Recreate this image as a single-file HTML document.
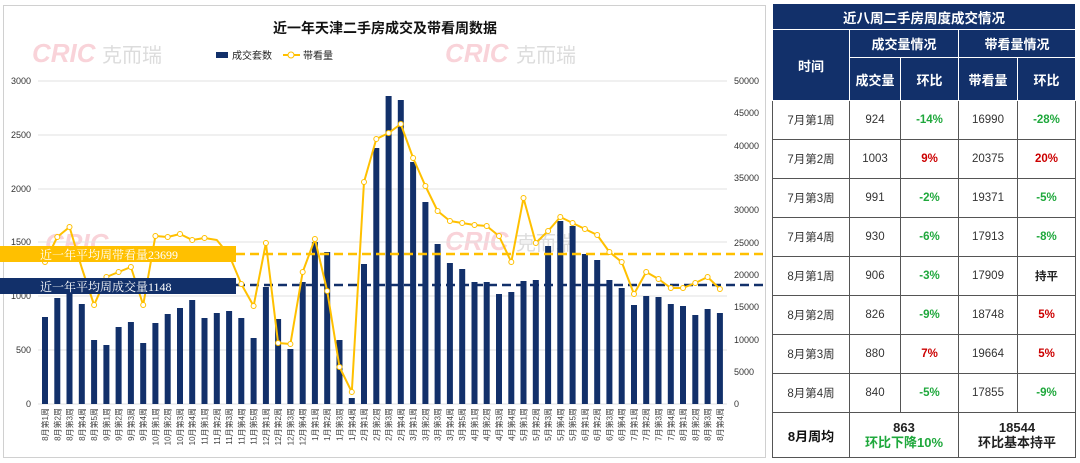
<!DOCTYPE html>
<html><head><meta charset="utf-8"><style>
body{margin:0;width:1080px;height:463px;background:#fff;overflow:hidden;font-family:"Liberation Sans","Noto Sans CJK SC",sans-serif}
#tb{position:absolute;left:772px;top:3px;border-collapse:collapse;font-size:11.5px;}
#tb td{border:1px solid #555;text-align:center;padding:0;color:#333}
#tb td.h{background:#12306a;color:#fff;font-weight:bold;font-size:13px;border-color:#fff}
#tb .g{color:#1fa83c;font-weight:bold}#tb .r{color:#c00;font-weight:bold}
</style></head><body>
<svg width="770" height="463" style="position:absolute;left:0;top:0" font-family="Liberation Sans,Noto Sans CJK SC,sans-serif">
<rect x="3.5" y="5.5" width="762" height="452" fill="#fff" stroke="#d0d0d0"/>
<text x="385" y="33" text-anchor="middle" font-size="14" font-weight="bold" fill="#111">近一年天津二手房成交及带看周数据</text>
<g font-size="26" font-weight="bold" font-style="italic" fill="#f2a0ac" opacity="0.45"><text x="32" y="62">CRIC</text><text x="445" y="62">CRIC</text><text x="445" y="250">CRIC</text><text x="45" y="252">CRIC</text></g>
<g font-size="20" fill="#bbb" opacity="0.5"><text x="102" y="62">克而瑞</text><text x="516" y="62">克而瑞</text><text x="516" y="250">克而瑞</text></g>
<rect x="216" y="52" width="12" height="6" fill="#12306a"/><text x="232" y="59" font-size="10" fill="#222">成交套数</text>
<line x1="283" y1="55" x2="300" y2="55" stroke="#ffc000" stroke-width="2"/><circle cx="291" cy="55" r="3" fill="#fff" stroke="#ffc000"/><text x="303" y="59" font-size="10" fill="#222">带看量</text>
<g stroke="#e2e2e2" stroke-width="1">
<line x1="38" y1="81" x2="727" y2="81"/><line x1="38" y1="135" x2="727" y2="135"/><line x1="38" y1="189" x2="727" y2="189"/><line x1="38" y1="242" x2="727" y2="242"/><line x1="38" y1="296" x2="727" y2="296"/><line x1="38" y1="350" x2="727" y2="350"/><line x1="38" y1="404" x2="727" y2="404"/></g>
<g font-size="9" fill="#333" text-anchor="end"><text x="31" y="84">3000</text><text x="31" y="138">2500</text><text x="31" y="192">2000</text><text x="31" y="245">1500</text><text x="31" y="299">1000</text><text x="31" y="353">500</text><text x="31" y="407">0</text></g>
<g font-size="9" fill="#333"><text x="734" y="84">50000</text><text x="734" y="116">45000</text><text x="734" y="149">40000</text><text x="734" y="181">35000</text><text x="734" y="213">30000</text><text x="734" y="246">25000</text><text x="734" y="278">20000</text><text x="734" y="310">15000</text><text x="734" y="343">10000</text><text x="734" y="375">5000</text><text x="734" y="407">0</text></g>
<g fill="#12306a">
<rect x="42" y="317" width="6" height="87"/><rect x="54.3" y="298" width="6" height="106"/><rect x="66.5" y="288" width="6" height="116"/><rect x="78.8" y="304" width="6" height="100"/><rect x="91.1" y="340" width="6" height="64"/><rect x="103.4" y="345" width="6" height="59"/><rect x="115.6" y="327" width="6" height="77"/><rect x="127.9" y="322" width="6" height="82"/><rect x="140.2" y="343" width="6" height="61"/><rect x="152.4" y="323" width="6" height="81"/><rect x="164.7" y="314" width="6" height="90"/><rect x="177" y="308" width="6" height="96"/><rect x="189.2" y="300" width="6" height="104"/><rect x="201.5" y="318" width="6" height="86"/><rect x="213.8" y="313" width="6" height="91"/><rect x="226.1" y="311" width="6" height="93"/><rect x="238.3" y="318" width="6" height="86"/><rect x="250.6" y="338" width="6" height="66"/><rect x="262.9" y="287" width="6" height="117"/><rect x="275.1" y="319" width="6" height="85"/><rect x="287.4" y="349" width="6" height="55"/><rect x="299.7" y="282" width="6" height="122"/><rect x="311.9" y="242" width="6" height="162"/><rect x="324.2" y="252" width="6" height="152"/><rect x="336.5" y="340" width="6" height="64"/><rect x="348.8" y="398" width="6" height="6"/><rect x="361" y="264" width="6" height="140"/><rect x="373.3" y="148" width="6" height="256"/><rect x="385.6" y="96" width="6" height="308"/><rect x="397.8" y="100" width="6" height="304"/><rect x="410.1" y="162" width="6" height="242"/><rect x="422.4" y="202" width="6" height="202"/><rect x="434.6" y="244" width="6" height="160"/><rect x="446.9" y="263" width="6" height="141"/><rect x="459.2" y="269" width="6" height="135"/><rect x="471.5" y="282" width="6" height="122"/><rect x="483.7" y="282" width="6" height="122"/><rect x="496" y="294" width="6" height="110"/><rect x="508.3" y="292" width="6" height="112"/><rect x="520.5" y="281" width="6" height="123"/><rect x="532.8" y="280" width="6" height="124"/><rect x="545.1" y="246" width="6" height="158"/><rect x="557.3" y="221" width="6" height="183"/><rect x="569.6" y="226" width="6" height="178"/><rect x="581.9" y="254" width="6" height="150"/><rect x="594.2" y="260" width="6" height="144"/><rect x="606.4" y="280" width="6" height="124"/><rect x="618.7" y="288" width="6" height="116"/><rect x="631" y="305" width="6" height="99"/><rect x="643.2" y="296" width="6" height="108"/><rect x="655.5" y="297" width="6" height="107"/><rect x="667.8" y="304" width="6" height="100"/><rect x="680" y="306" width="6" height="98"/><rect x="692.3" y="315" width="6" height="89"/><rect x="704.6" y="309" width="6" height="95"/><rect x="716.9" y="313" width="6" height="91"/>
</g>
<line x1="236" y1="254" x2="766" y2="254" stroke="#ffc000" stroke-width="2.5" stroke-dasharray="9,5"/>
<line x1="236" y1="285" x2="766" y2="285" stroke="#12306a" stroke-width="2.5" stroke-dasharray="9,5"/>
<polyline fill="none" stroke="#ffc000" stroke-width="2" stroke-linejoin="round" points="45,262 57.3,237 69.5,227 81.8,268 94.1,305 106.4,277 118.6,272 130.9,267 143.2,305 155.4,236 167.7,237 180,234 192.2,240 204.5,238 216.8,240 229.1,255 241.3,284 253.6,306 265.9,243 278.1,343 290.4,344 302.7,272 314.9,239 327.2,291 339.5,367 351.8,392 364,182 376.3,139 388.6,133 400.8,124 413.1,158 425.4,186 437.6,211 449.9,221 462.2,223 474.5,225 486.7,226 499,236 511.3,262 523.5,198 535.8,243 548.1,231 560.3,217 572.6,223 584.9,229 597.2,235 609.4,252 621.7,262 634,294 646.2,272 658.5,279 670.8,288 683,288 695.3,283 707.6,277 719.9,289"/>
<g fill="#fff" stroke="#ffc000" stroke-width="1">
<circle cx="45" cy="262" r="2.5"/><circle cx="57.3" cy="237" r="2.5"/><circle cx="69.5" cy="227" r="2.5"/><circle cx="94.1" cy="305" r="2.5"/><circle cx="106.4" cy="277" r="2.5"/><circle cx="118.6" cy="272" r="2.5"/><circle cx="130.9" cy="267" r="2.5"/><circle cx="143.2" cy="305" r="2.5"/><circle cx="155.4" cy="236" r="2.5"/><circle cx="167.7" cy="237" r="2.5"/><circle cx="180" cy="234" r="2.5"/><circle cx="192.2" cy="240" r="2.5"/><circle cx="204.5" cy="238" r="2.5"/><circle cx="241.3" cy="284" r="2.5"/><circle cx="253.6" cy="306" r="2.5"/><circle cx="265.9" cy="243" r="2.5"/><circle cx="278.1" cy="343" r="2.5"/><circle cx="290.4" cy="344" r="2.5"/><circle cx="302.7" cy="272" r="2.5"/><circle cx="314.9" cy="239" r="2.5"/><circle cx="327.2" cy="291" r="2.5"/><circle cx="339.5" cy="367" r="2.5"/><circle cx="351.8" cy="392" r="2.5"/><circle cx="364" cy="182" r="2.5"/><circle cx="376.3" cy="139" r="2.5"/><circle cx="388.6" cy="133" r="2.5"/><circle cx="400.8" cy="124" r="2.5"/><circle cx="413.1" cy="158" r="2.5"/><circle cx="425.4" cy="186" r="2.5"/><circle cx="437.6" cy="211" r="2.5"/><circle cx="449.9" cy="221" r="2.5"/><circle cx="462.2" cy="223" r="2.5"/><circle cx="474.5" cy="225" r="2.5"/><circle cx="486.7" cy="226" r="2.5"/><circle cx="499" cy="236" r="2.5"/><circle cx="511.3" cy="262" r="2.5"/><circle cx="523.5" cy="198" r="2.5"/><circle cx="535.8" cy="243" r="2.5"/><circle cx="548.1" cy="231" r="2.5"/><circle cx="560.3" cy="217" r="2.5"/><circle cx="572.6" cy="223" r="2.5"/><circle cx="584.9" cy="229" r="2.5"/><circle cx="597.2" cy="235" r="2.5"/><circle cx="609.4" cy="252" r="2.5"/><circle cx="621.7" cy="262" r="2.5"/><circle cx="634" cy="294" r="2.5"/><circle cx="646.2" cy="272" r="2.5"/><circle cx="658.5" cy="279" r="2.5"/><circle cx="670.8" cy="288" r="2.5"/><circle cx="683" cy="288" r="2.5"/><circle cx="695.3" cy="283" r="2.5"/><circle cx="707.6" cy="277" r="2.5"/><circle cx="719.9" cy="289" r="2.5"/>
</g>
<rect x="0" y="246" width="236" height="16" fill="#ffc000"/>
<text x="40" y="259" font-size="12" fill="#fff" font-family="Liberation Serif,Noto Serif CJK SC,serif">近一年平均周带看量23699</text>
<rect x="0" y="278" width="236" height="16" fill="#12306a"/>
<text x="40" y="291" font-size="12" fill="#fff" font-family="Liberation Serif,Noto Serif CJK SC,serif">近一年平均周成交量1148</text>
<g font-size="8" fill="#444" text-anchor="end">
<text transform="translate(48,408) rotate(-90)">8月第1周</text><text transform="translate(60.3,408) rotate(-90)">8月第2周</text><text transform="translate(72.5,408) rotate(-90)">8月第3周</text><text transform="translate(84.8,408) rotate(-90)">8月第4周</text><text transform="translate(97.1,408) rotate(-90)">8月第5周</text><text transform="translate(109.4,408) rotate(-90)">9月第1周</text><text transform="translate(121.6,408) rotate(-90)">9月第2周</text><text transform="translate(133.9,408) rotate(-90)">9月第3周</text><text transform="translate(146.2,408) rotate(-90)">9月第4周</text><text transform="translate(158.4,408) rotate(-90)">10月第1周</text><text transform="translate(170.7,408) rotate(-90)">10月第2周</text><text transform="translate(183,408) rotate(-90)">10月第3周</text><text transform="translate(195.2,408) rotate(-90)">10月第4周</text><text transform="translate(207.5,408) rotate(-90)">11月第1周</text><text transform="translate(219.8,408) rotate(-90)">11月第2周</text><text transform="translate(232.1,408) rotate(-90)">11月第3周</text><text transform="translate(244.3,408) rotate(-90)">11月第4周</text><text transform="translate(256.6,408) rotate(-90)">11月第5周</text><text transform="translate(268.9,408) rotate(-90)">12月第1周</text><text transform="translate(281.1,408) rotate(-90)">12月第2周</text><text transform="translate(293.4,408) rotate(-90)">12月第3周</text><text transform="translate(305.7,408) rotate(-90)">12月第4周</text><text transform="translate(317.9,408) rotate(-90)">1月第1周</text><text transform="translate(330.2,408) rotate(-90)">1月第2周</text><text transform="translate(342.5,408) rotate(-90)">1月第3周</text><text transform="translate(354.8,408) rotate(-90)">1月第4周</text><text transform="translate(367,408) rotate(-90)">2月第1周</text><text transform="translate(379.3,408) rotate(-90)">2月第2周</text><text transform="translate(391.6,408) rotate(-90)">2月第3周</text><text transform="translate(403.8,408) rotate(-90)">2月第4周</text><text transform="translate(416.1,408) rotate(-90)">3月第1周</text><text transform="translate(428.4,408) rotate(-90)">3月第2周</text><text transform="translate(440.6,408) rotate(-90)">3月第3周</text><text transform="translate(452.9,408) rotate(-90)">3月第4周</text><text transform="translate(465.2,408) rotate(-90)">3月第5周</text><text transform="translate(477.5,408) rotate(-90)">4月第1周</text><text transform="translate(489.7,408) rotate(-90)">4月第2周</text><text transform="translate(502,408) rotate(-90)">4月第3周</text><text transform="translate(514.3,408) rotate(-90)">4月第4周</text><text transform="translate(526.5,408) rotate(-90)">5月第1周</text><text transform="translate(538.8,408) rotate(-90)">5月第2周</text><text transform="translate(551.1,408) rotate(-90)">5月第3周</text><text transform="translate(563.3,408) rotate(-90)">5月第4周</text><text transform="translate(575.6,408) rotate(-90)">5月第5周</text><text transform="translate(587.9,408) rotate(-90)">6月第1周</text><text transform="translate(600.2,408) rotate(-90)">6月第2周</text><text transform="translate(612.4,408) rotate(-90)">6月第3周</text><text transform="translate(624.7,408) rotate(-90)">6月第4周</text><text transform="translate(637,408) rotate(-90)">7月第1周</text><text transform="translate(649.2,408) rotate(-90)">7月第2周</text><text transform="translate(661.5,408) rotate(-90)">7月第3周</text><text transform="translate(673.8,408) rotate(-90)">7月第4周</text><text transform="translate(686,408) rotate(-90)">8月第1周</text><text transform="translate(698.3,408) rotate(-90)">8月第2周</text><text transform="translate(710.6,408) rotate(-90)">8月第3周</text><text transform="translate(722.9,408) rotate(-90)">8月第4周</text>
</g>
</svg>
<table id="tb">
<tr style="height:26px"><td class="h" colspan="5" style="font-size:13.5px">近八周二手房周度成交情况</td></tr>
<tr style="height:28px"><td class="h" rowspan="2" style="width:76px">时间</td><td class="h" colspan="2">成交量情况</td><td class="h" colspan="2">带看量情况</td></tr>
<tr style="height:43px"><td class="h" style="width:50px">成交量</td><td class="h" style="width:57px">环比</td><td class="h" style="width:58px">带看量</td><td class="h" style="width:57px">环比</td></tr>
<tr style="height:39px"><td>7月第1周</td><td>924</td><td class="g">-14%</td><td>16990</td><td class="g">-28%</td></tr>
<tr style="height:39px"><td>7月第2周</td><td>1003</td><td class="r">9%</td><td>20375</td><td class="r">20%</td></tr>
<tr style="height:39px"><td>7月第3周</td><td>991</td><td class="g">-2%</td><td>19371</td><td class="g">-5%</td></tr>
<tr style="height:39px"><td>7月第4周</td><td>930</td><td class="g">-6%</td><td>17913</td><td class="g">-8%</td></tr>
<tr style="height:39px"><td>8月第1周</td><td>906</td><td class="g">-3%</td><td>17909</td><td style="font-weight:bold;color:#222">持平</td></tr>
<tr style="height:39px"><td>8月第2周</td><td>826</td><td class="g">-9%</td><td>18748</td><td class="r">5%</td></tr>
<tr style="height:39px"><td>8月第3周</td><td>880</td><td class="r">7%</td><td>19664</td><td class="r">5%</td></tr>
<tr style="height:39px"><td>8月第4周</td><td>840</td><td class="g">-5%</td><td>17855</td><td class="g">-9%</td></tr>
<tr style="height:45px"><td style="font-weight:bold;font-size:13px;color:#111">8月周均</td><td colspan="2" style="font-weight:bold;font-size:13px;line-height:15px;color:#222">863<br><span class="g">环比下降10%</span></td><td colspan="2" style="font-weight:bold;font-size:13px;line-height:15px;color:#222">18544<br>环比基本持平</td></tr>
</table>
</body></html>
